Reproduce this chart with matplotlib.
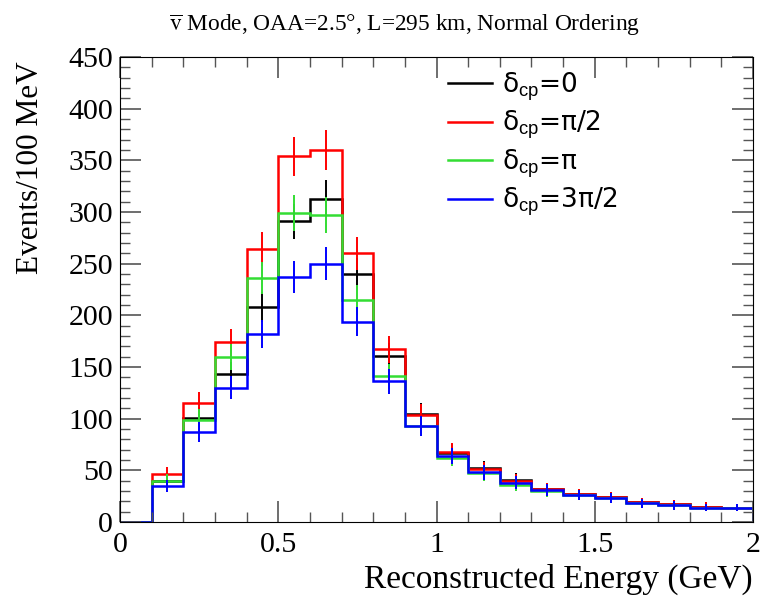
import numpy as np
import matplotlib.pyplot as plt
from matplotlib.ticker import MultipleLocator

# bin edges (GeV) and event counts per 100 MeV bin
edges = np.round(np.arange(0, 2.01, 0.1), 2)
delta0 = [0, 40, 101, 143, 208, 291, 313, 240, 161, 105, 67, 52, 41, 32, 27, 24, 19, 17, 15, 14]
delta_pi2 = [0, 46, 115, 174, 264, 354, 360, 260, 167, 104, 68, 51, 40, 32, 27, 24, 19, 17, 15, 14]
delta_pi = [0, 40, 99, 160, 236, 299, 297, 215, 141, 93, 62, 47, 36, 30, 26, 23, 18, 16, 14, 14]
delta_3pi2 = [0, 35, 87, 130, 182, 237, 250, 194, 136, 93, 64, 48, 38, 31, 26, 23, 18, 16, 14, 14]

series = [(delta0, 'black', '0'), (delta_pi2, 'red', 'π/2'),
          (delta_pi, '#33dd33', 'π'), (delta_3pi2, 'blue', '3π/2')]

plt.rcParams['mathtext.fontset'] = 'custom'
plt.rcParams['mathtext.rm'] = 'Liberation Sans'
plt.rcParams['mathtext.it'] = 'Liberation Sans:italic'

fig = plt.figure(figsize=(7.63, 6.10), dpi=100)
ax = fig.add_axes([120/763, 1 - 522/610, 633/763, 465/610])

centers = edges[:-1] + 0.05
for vals, col, lab in series:
    v = np.array(vals, dtype=float)
    ax.stairs(v, edges, color=col, lw=1.8, label='δ$_{\\rm cp}$=' + lab)
    ax.errorbar(centers[1:], v[1:], yerr=np.sqrt(v[1:]), fmt='none', ecolor=col, elinewidth=1.4)

ax.set_xlim(0, 2)
ax.set_ylim(0, 450)
ax.set_xticks([0, 0.5, 1, 1.5, 2])
ax.set_xticklabels(['0', '0.5', '1', '1.5', '2'])
ax.xaxis.set_minor_locator(MultipleLocator(0.1))
ax.yaxis.set_major_locator(MultipleLocator(50))
ax.yaxis.set_minor_locator(MultipleLocator(10))
ax.tick_params(which='both', direction='in', top=True, right=True, color='#555555')
ax.tick_params(which='major', length=15, width=1.2, labelsize=21.5)
ax.tick_params(which='minor', length=7, width=1.0)
ax.tick_params(axis='x', which='major', pad=7)
ax.tick_params(axis='y', which='major', pad=5)
for lbl in ax.get_xticklabels() + ax.get_yticklabels():
    lbl.set_family('Liberation Serif')

ax.set_xlabel('Reconstructed Energy (GeV)', family='Liberation Serif', fontsize=24, loc='right')
ax.set_ylabel('Events/100 MeV', family='Liberation Serif', fontsize=22.5, loc='top', labelpad=17)
ax.yaxis.label.set_y(0.99)

fig.text(404/763, 1 - 25/610, r'$\overline{\mathrm{v}}$ Mode, OAA=2.5°, L=295 km, Normal Ordering',
         family='Liberation Serif', math_fontfamily='stix', fontsize=16.8, ha='center', va='center')

leg = ax.legend(loc='upper left', bbox_to_anchor=(0.48, 1.023), frameon=False,
                fontsize=19, handlelength=1.7, labelspacing=0.22, handletextpad=0.38)

fig.savefig('out.png', dpi=100)
